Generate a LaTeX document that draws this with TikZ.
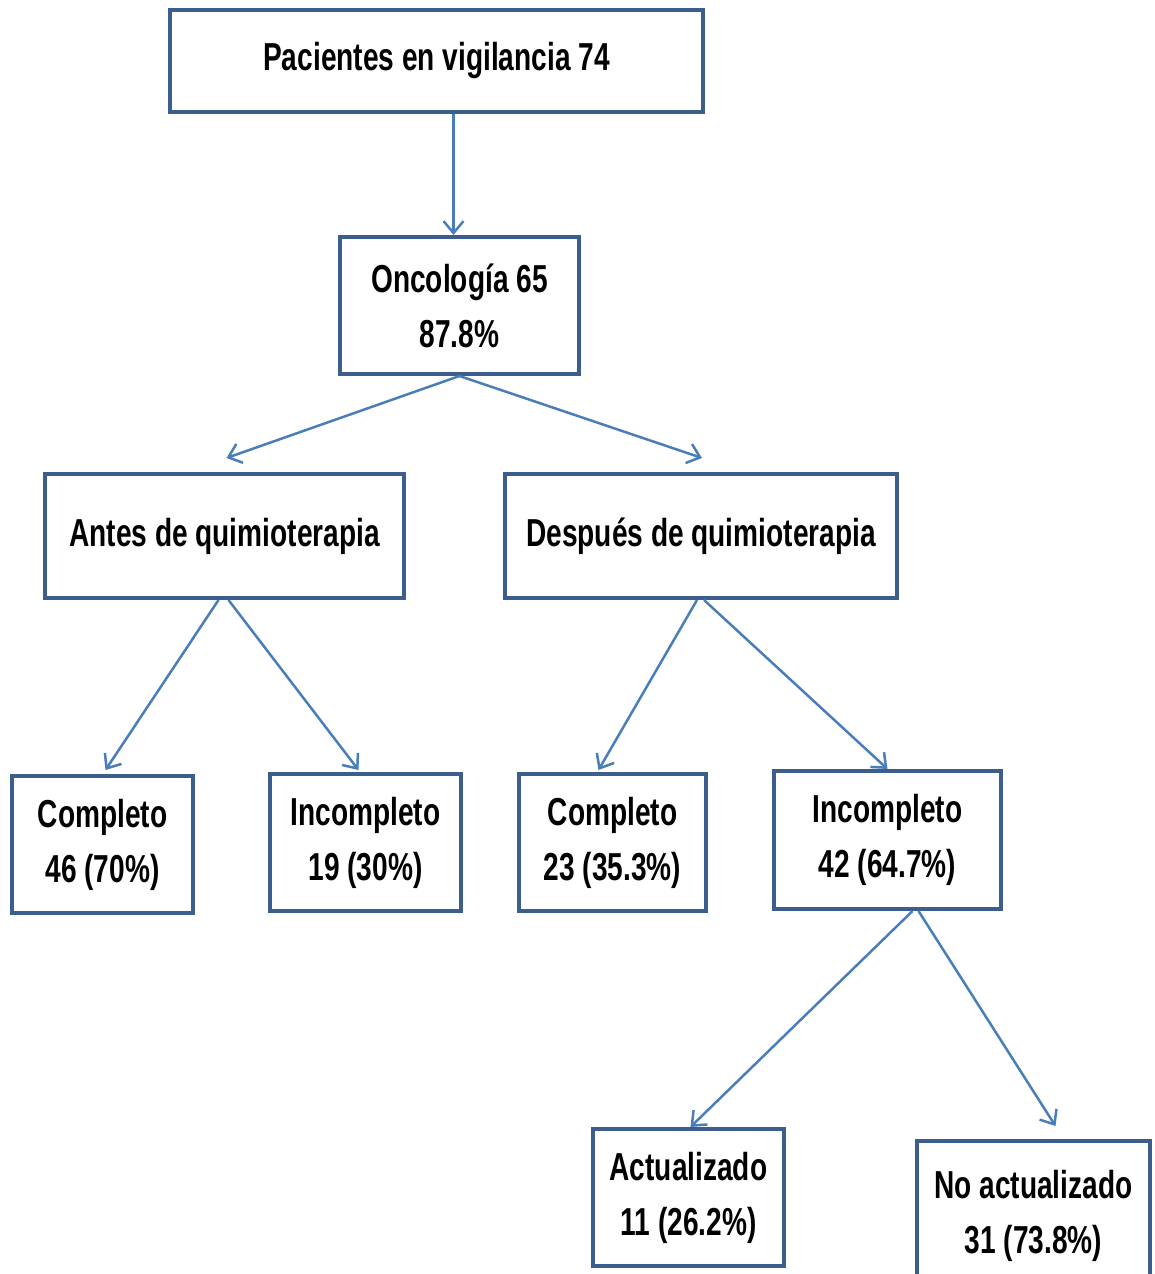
\documentclass[tikz,border=0pt]{standalone}
\usepackage{fontspec}
\setmainfont{Liberation Sans}[FakeStretch=0.72]
\usetikzlibrary{arrows.meta}
\definecolor{boxline}{HTML}{3B5E8C}
\definecolor{arrowc}{HTML}{4A7EBB}
\tikzset{
  box/.style={draw=boxline, line width=4pt, rectangle, inner sep=0pt, align=center,
    font=\fontsize{39}{55}\selectfont\bfseries, fill=white},
  conn/.style={draw=arrowc, line width=2.5pt, -{Straight Barb[length=12pt,width=20pt]}}
}
\begin{document}
\begin{tikzpicture}[x=1pt,y=-1pt]
\useasboundingbox[fill=white] (0,0) rectangle (1155,1274);
\node[box, minimum width=533pt, minimum height=102pt] (top) at (436.5,61) {Pacientes en vigilancia 74};
\node[box, minimum width=239pt, minimum height=137pt] (onc) at (459.5,305.5) {Oncología 65\\87.8\%};
\node[box, minimum width=359pt, minimum height=124pt] (ant) at (224.5,536) {Antes de quimioterapia};
\node[box, minimum width=392pt, minimum height=124pt] (des) at (701,536) {Después de quimioterapia};
\node[box, minimum width=181pt, minimum height=137pt] (c1) at (102.5,844.5) {Completo\\46 (70\%)};
\node[box, minimum width=191pt, minimum height=137pt] (i1) at (365.5,842.5) {Incompleto\\19 (30\%)};
\node[box, minimum width=187pt, minimum height=137pt] (c2) at (612.5,842.5) {Completo\\23 (35.3\%)};
\node[box, minimum width=227pt, minimum height=138pt] (i2) at (887.5,840) {Incompleto\\42 (64.7\%)};
\node[box, minimum width=191pt, minimum height=137pt] (act) at (688.5,1197.5) {Actualizado\\11 (26.2\%)};
\node[box, minimum width=233pt, minimum height=149pt] (noa) at (1033.5,1215.5) {No actualizado\\31 (73.8\%)};

\draw[conn] ([xshift=17pt]top.south) -- ([xshift=-6pt]onc.north);
\draw[conn] (onc.south) -- ([xshift=2pt,yshift=14pt]ant.north);
\draw[conn] (onc.south) -- ([xshift=1pt,yshift=14pt]des.north);
\draw[conn] ([xshift=-6pt]ant.south) -- ([xshift=3pt,yshift=4pt]c1.north);
\draw[conn] ([xshift=4pt]ant.south) -- ([xshift=-7pt,yshift=2pt]i1.north);
\draw[conn] ([xshift=-4pt]des.south) -- ([xshift=-14pt,yshift=2pt]c2.north);
\draw[conn] ([xshift=3pt]des.south) -- (i2.north);
\draw[conn] ([xshift=25pt]i2.south) -- ([xshift=2pt]act.north);
\draw[conn] ([xshift=31pt]i2.south) -- ([xshift=22pt,yshift=13pt]noa.north);
\end{tikzpicture}
\end{document}
